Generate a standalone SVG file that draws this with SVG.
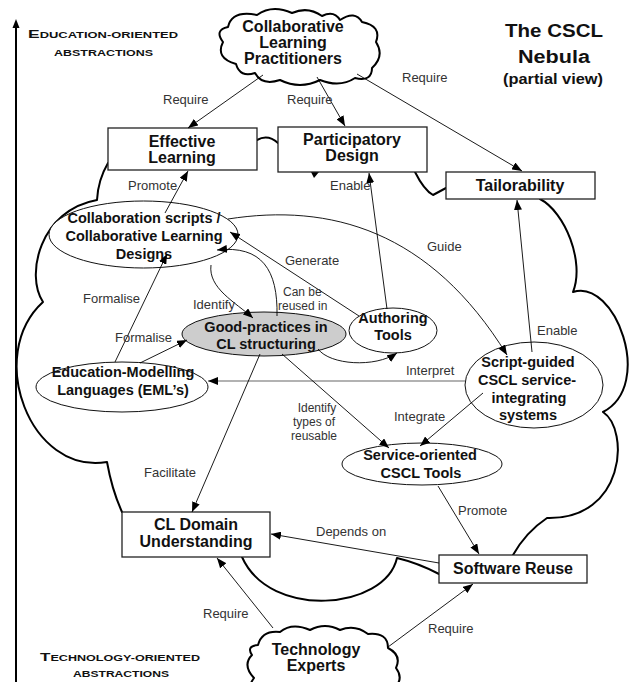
<svg xmlns="http://www.w3.org/2000/svg" width="629" height="682" viewBox="0 0 629 682">
<defs>
<style>
.cloud{fill:none;stroke:#000;stroke-width:2;stroke-linejoin:round;stroke-linecap:round}
.cl{fill:#fff;stroke:#000;stroke-width:2;stroke-linejoin:round}
.box{fill:#fff;stroke:#222;stroke-width:1.3}
.ell{fill:#fff;stroke:#111;stroke-width:1}
.gp{fill:#cdcdcd;stroke:#111;stroke-width:1}
.bt{font-family:"Liberation Sans",Arial,sans-serif;font-weight:bold;font-size:16px;fill:#111;text-anchor:middle}
.et{font-family:"Liberation Sans",Arial,sans-serif;font-weight:bold;font-size:14.5px;fill:#111;text-anchor:middle}
.lb{font-family:"Liberation Sans",Arial,sans-serif;font-size:13px;fill:#333}
.lb2{font-family:"Liberation Sans",Arial,sans-serif;font-size:12px;fill:#333}
.sc{font-family:"Liberation Sans",Arial,sans-serif;font-weight:bold;font-size:8.5px;fill:#111}
.cap{font-size:11.5px}
.tt{font-family:"Liberation Sans",Arial,sans-serif;font-weight:bold;fill:#111;text-anchor:middle}
.cn{fill:none;stroke:#000;stroke-width:0.9}
</style>
<marker id="ah" viewBox="0 0 10 8" refX="10" refY="4" markerWidth="10" markerHeight="8" markerUnits="userSpaceOnUse" orient="auto">
<path d="M0,0 L10,4 L0,8 z" fill="#000"/>
</marker>
</defs>
<rect width="629" height="682" fill="#fff"/>

<g id="axis">
<line x1="16" y1="682" x2="16" y2="26" stroke="#000" stroke-width="2"/>
<path d="M16,19 L12.5,28 L19.5,28 Z" fill="#000"/>
<text class="sc" x="28" y="38" textLength="150" lengthAdjust="spacingAndGlyphs"><tspan class="cap">E</tspan>DUCATION-ORIENTED</text>
<text class="sc" x="54" y="56" textLength="99" lengthAdjust="spacingAndGlyphs">ABSTRACTIONS</text>
<text class="sc" x="40" y="661" textLength="160" lengthAdjust="spacingAndGlyphs"><tspan class="cap">T</tspan>ECHNOLOGY-ORIENTED</text>
<text class="sc" x="73" y="677" textLength="96" lengthAdjust="spacingAndGlyphs">ABSTRACTIONS</text>
</g>

<g id="title">
<text class="tt" x="554" y="37" font-size="18" textLength="98" lengthAdjust="spacingAndGlyphs">The CSCL</text>
<text class="tt" x="554" y="63" font-size="18" textLength="72" lengthAdjust="spacingAndGlyphs">Nebula</text>
<text class="tt" x="553" y="84" font-size="14" textLength="100" lengthAdjust="spacingAndGlyphs">(partial view)</text>
</g>

<g id="nebula">
<path class="cloud" d="M257,140 Q268,134 278,143"/>
<path class="cloud" d="M415,172 Q424,190 433,195 L446,188"/>
<path class="cloud" d="M540,199 C565,212 585,262 573,292 C615,278 655,385 603,412 C630,430 625,520 547,518 Q526,532 513,555"/>
<path class="cloud" d="M439,574 Q418,563 397,558 C385,610 270,620 242,557"/>
<path class="cloud" d="M122,512 Q112,490 107,462 C30,475 -15,355 43,302 C25,275 40,210 97,200 Q98,180 108,163"/>
<path d="M311,172 L319,172 L314,178 Z" fill="#000"/>
</g>

<g id="practitioners">
<path class="cl" d="M228,27 Q232,10 257,15 Q272,4 292,13 Q308,6 322,16 Q334,10 340,20 Q355,10 362,22 Q382,26 376,42 Q385,56 372,68 Q372,82 355,78 Q340,88 320,80 Q300,90 280,80 Q262,86 255,73 Q240,78 236,64 Q215,58 223,42 Q214,30 228,27 Z"/>
<text class="bt" x="293" y="32">Collaborative</text>
<text class="bt" x="293" y="48">Learning</text>
<text class="bt" x="293" y="64">Practitioners</text>
</g>

<g id="tech-experts">
<path class="cl" d="M258,645 Q262,630 280,632 Q292,622 310,630 Q325,622 340,630 Q355,624 368,634 Q388,632 388,648 Q402,655 396,668 Q405,680 392,690 L392,700 L255,700 Q245,690 254,678 Q242,665 252,655 Q246,646 258,645 Z"/>
<text class="bt" x="316" y="655">Technology</text>
<text class="bt" x="316" y="671">Experts</text>
</g>

<g id="effective-learning">
<rect class="box" x="108" y="128" width="149" height="42"/>
<text class="bt" x="182" y="147">Effective</text>
<text class="bt" x="182" y="163">Learning</text>
</g>

<g id="participatory-design">
<rect class="box" x="278" y="127" width="149" height="45"/>
<text class="bt" x="352" y="145">Participatory</text>
<text class="bt" x="352" y="161">Design</text>
</g>

<g id="tailorability">
<rect class="box" x="446" y="172" width="149" height="27"/>
<text class="bt" x="520" y="191">Tailorability</text>
</g>

<g id="cl-domain">
<rect class="box" x="122" y="512" width="148" height="45"/>
<text class="bt" x="196" y="530">CL Domain</text>
<text class="bt" x="196" y="547">Understanding</text>
</g>

<g id="software-reuse">
<rect class="box" x="439" y="555" width="148" height="28"/>
<text class="bt" x="513" y="574">Software Reuse</text>
</g>

<g id="collab-scripts">
<ellipse class="ell" cx="143.5" cy="234.5" rx="94.5" ry="33.5"/>
<text class="et" x="144" y="223">Collaboration scripts /</text>
<text class="et" x="144" y="241">Collaborative Learning</text>
<text class="et" x="144" y="259">Designs</text>
</g>

<g id="good-practices">
<ellipse class="gp" cx="264" cy="334" rx="82" ry="22"/>
<text class="et" x="266" y="332">Good-practices in</text>
<text class="et" x="266" y="349">CL structuring</text>
</g>

<g id="eml">
<ellipse class="ell" cx="122" cy="387" rx="86" ry="25"/>
<text class="et" x="123" y="377">Education-Modelling</text>
<text class="et" x="123" y="395">Languages (EML’s)</text>
</g>

<g id="authoring-tools">
<ellipse class="ell" cx="393" cy="330.5" rx="44" ry="22.5"/>
<text class="et" x="393" y="323">Authoring</text>
<text class="et" x="393" y="340">Tools</text>
</g>

<g id="script-guided">
<ellipse class="ell" cx="534" cy="385" rx="69" ry="43"/>
<text class="et" x="528" y="367">Script-guided</text>
<text class="et" x="527" y="385">CSCL service-</text>
<text class="et" x="529" y="403">integrating</text>
<text class="et" x="528" y="420">systems</text>
</g>

<g id="service-oriented">
<ellipse class="ell" cx="422" cy="464" rx="80" ry="21"/>
<text class="et" x="420" y="460">Service-oriented</text>
<text class="et" x="421" y="478">CSCL Tools</text>
</g>

<g id="connectors">
<line class="cn" x1="263" y1="75" x2="188" y2="128" marker-end="url(#ah)"/>
<line class="cn" x1="317" y1="77" x2="345" y2="126" marker-end="url(#ah)"/>
<line class="cn" x1="357" y1="74" x2="522" y2="171" marker-end="url(#ah)"/>
<line class="cn" x1="165" y1="213" x2="188" y2="171" marker-end="url(#ah)"/>
<line class="cn" x1="387" y1="309" x2="369" y2="173" marker-end="url(#ah)"/>
<line class="cn" x1="532" y1="352" x2="517" y2="200" marker-end="url(#ah)"/>
<path class="cn" d="M228,219 C330,203 430,230 507,355" marker-end="url(#ah)"/>
<line class="cn" x1="359" y1="316" x2="230" y2="232" marker-end="url(#ah)"/>
<path class="cn" d="M211,265 C208,288 235,302 253,318" marker-end="url(#ah)"/>
<path class="cn" d="M277,316 C278,270 262,245 217,250" marker-end="url(#ah)"/>
<line class="cn" x1="115" y1="362" x2="167" y2="254" marker-end="url(#ah)"/>
<line class="cn" x1="140" y1="363" x2="187" y2="340" marker-end="url(#ah)"/>
<line x1="465" y1="381" x2="208" y2="381" stroke="#666" stroke-width="1.2" marker-end="url(#ah)"/>
<path class="cn" d="M318,349 C330,365 375,368 397,353" marker-end="url(#ah)"/>
<line class="cn" x1="260" y1="354" x2="192" y2="512" marker-end="url(#ah)"/>
<line class="cn" x1="282" y1="354" x2="389" y2="448" marker-end="url(#ah)"/>
<line class="cn" x1="483" y1="393" x2="420" y2="446" marker-end="url(#ah)"/>
<line class="cn" x1="438" y1="486" x2="479" y2="554" marker-end="url(#ah)"/>
<line class="cn" x1="439" y1="563" x2="271" y2="534" marker-end="url(#ah)"/>
<line class="cn" x1="273" y1="628" x2="217" y2="558" marker-end="url(#ah)"/>
<line class="cn" x1="388" y1="647" x2="473" y2="584" marker-end="url(#ah)"/>
</g>

<g id="labels">
<text class="lb" x="163" y="104">Require</text>
<text class="lb" x="287" y="104">Require</text>
<text class="lb" x="402" y="82">Require</text>
<text class="lb" x="128" y="190">Promote</text>
<text class="lb" x="330" y="190">Enable</text>
<text class="lb" x="427" y="251">Guide</text>
<text class="lb" x="285" y="265">Generate</text>
<text class="lb" x="83" y="303">Formalise</text>
<text class="lb" x="193" y="309">Identify</text>
<text class="lb2" x="283" y="296">Can be</text>
<text class="lb2" x="278" y="310">reused in</text>
<text class="lb" x="115" y="342">Formalise</text>
<text class="lb" x="537" y="335">Enable</text>
<text class="lb" x="406" y="375">Interpret</text>
<text class="lb2" x="317" y="412" text-anchor="middle">Identify</text>
<text class="lb2" x="314" y="426" text-anchor="middle">types of</text>
<text class="lb2" x="314" y="440" text-anchor="middle">reusable</text>
<text class="lb" x="394" y="421">Integrate</text>
<text class="lb" x="144" y="477">Facilitate</text>
<text class="lb" x="458" y="515">Promote</text>
<text class="lb" x="316" y="536">Depends on</text>
<text class="lb" x="203" y="618">Require</text>
<text class="lb" x="428" y="633">Require</text>
</g>
</svg>
